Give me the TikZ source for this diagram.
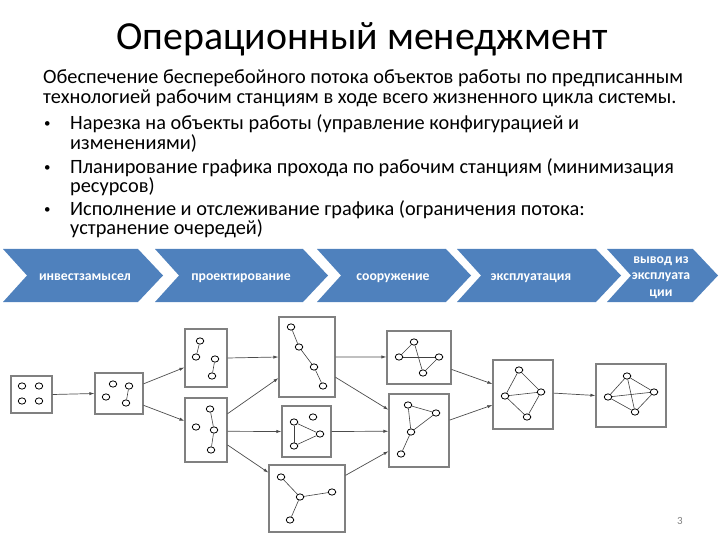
\documentclass[tikz,border=0pt]{standalone}
\usepackage{fontspec}
\setmainfont{Carlito}
\usetikzlibrary{arrows.meta, shapes.geometric, positioning, calc}
\definecolor{phaseblue}{HTML}{4F81BD}
\definecolor{boxgray}{HTML}{808080}

\begin{document}
\begin{tikzpicture}[x=1bp, y=-1bp,
  station/.style={draw=boxgray, line width=1.1bp, inner sep=0pt},
  obj/.style={ellipse, draw=black, fill=white, line width=0.8bp, inner sep=0pt, minimum width=7.6bp, minimum height=6.2bp},
  link/.style={draw=black!75, line width=0.6bp},
  flow/.style={draw=black!70, line width=0.7bp, -{Latex[length=5bp,width=3.2bp]}},
  phase/.style={fill=phaseblue},
  phasetxt/.style={text=white, font=\fontsize{13.8}{16.5}\selectfont\bfseries, align=center, inner sep=0pt},
  bodytxt/.style={anchor=base west, inner sep=0pt, font=\fontsize{20.4}{20}\selectfont},
  bullet/.style={anchor=base west, inner sep=0pt, font=\fontsize{13}{13}\selectfont}]
\useasboundingbox (0,0) rectangle (728,546);

% title and text
\node[anchor=base, font=\fontsize{40}{40}\selectfont] (title) at (362,50) {Операционный менеджмент};
\node[bodytxt] (l1) at (43,84) {Обеспечение бесперебойного потока объектов работы по предписанным};
\node[bodytxt] (l2) at (43,104) {технологией рабочим станциям в ходе всего жизненного цикла системы.};
\foreach \nm/\py/\txt in {
    p1/130/Нарезка на объекты работы (управление конфигурацией и,
    p2/174/Планирование графика прохода по рабочим станциям (минимизация,
    p3/216/Исполнение и отслеживание графика (ограничения потока:} {
    \node[bodytxt] (\nm) at (70,\py) {\txt};
    \node[bullet] (\nm dot) at (44,\py-2) {•};
}
\node[bodytxt] (p1b) at (70,150) {изменениями)};
\node[bodytxt] (p2b) at (70,193) {ресурсов)};
\node[bodytxt] (p3b) at (70,235) {устранение очередей)};

% life cycle
\foreach \xl/\xr in {3/163, 155/328, 317/471, 457/621, 607/718} {
    \fill[phase] (\xl,249) -- (\xr-25,249) -- (\xr,275.5) -- (\xr-25,302) -- (\xl,302) -- (\xl+24,275.5) -- cycle;
}
\foreach \nm/\cx/\txt in {ph1/85/инвестзамысел, ph2/241/проектирование, ph3/393/сооружение, ph4/531/эксплуатация} {
    \node[phasetxt, anchor=base] (\nm) at (\cx,281) {\txt};
}
\node[phasetxt] (ph5) at (661,277.5) {вывод из\\эксплуата\\ции};

% work stations
\foreach \nm/\cx/\cy/\w/\h in {
    sA/31.5/394.5/41/37, sB/119/393.5/48/41,
    sC/206/358/42/58, sD/206/430/42/64,
    sE/307/357/56/80, sF/306.5/431.5/49/51, sG/307/498.5/76/67,
    sH/419/357.5/64/53, sI/419/430.5/60/73,
    sJ/523/394.5/60/69, sK/631/395.5/70/63} {
    \node[station, minimum width=\w bp, minimum height=\h bp] (\nm) at (\cx,\cy) {};
}

\foreach \s/\fs/\t/\ft in {
    sA/.5/sB/.5, sB/.27/sC/.66, sB/.78/sD/.36,
    sC/.5/sE/.5, sD/.25/sE/.76, sD/.52/sF/.5, sD/.73/sG/.12,
    sE/.5/sH/.49, sE/.75/sI/.22, sF/.5/sI/.51, sG/.16/sI/.78,
    sH/.72/sJ/.35, sI/.36/sJ/.65, sJ/.48/sK/.5} {
    \draw[flow] ($(\s.north east)!\fs!(\s.south east)$) -- ($(\t.north west)!\ft!(\t.south west)$);
}

% objects
\foreach \nm/\px/\py in {
    a1/22/386, a2/39/386, a3/22/401, a4/39/401,
    b1/113/384, b2/129/386, b3/106/397, b4/126/403,
    c1/200/341, c2/196/357, c3/215/359, c4/212/376,
    d1/210/409, d2/196/427, d3/214/430, d4/211/450,
    e1/291/327, e2/299/347, e3/314/367, e4/323/386,
    f1/313/417, f2/294/422, f3/320/434, f4/294/446,
    g1/281/477, g2/300/497, g3/332/492, g4/290/520,
    h1/414/342, h2/399/357, h3/439/357, h4/423/373,
    i1/408/405, i2/436/413, i3/411/432, i4/401/454,
    j1/519/370, j2/505/396, j3/541/392, j4/527/417,
    k1/627/376, k2/608/397, k3/654/392, k4/635/412} {
    \node[obj] (\nm) at (\px,\py) {};
}
\foreach \u/\v in {
    b2/b4, c1/c2, c3/c4, d1/d3, d3/d4,
    e1/e2, e2/e3, e3/e4, f2/f3, f3/f4, f4/f2,
    g2/g1, g2/g3, g2/g4, h2/h1, h2/h3, h1/h4, h4/h3,
    i1/i2, i1/i3, i3/i2, i3/i4,
    j1/j2, j1/j3, j2/j3, j2/j4, j3/j4,
    k1/k2, k1/k3, k1/k4, k2/k3, k2/k4, k3/k4} {
    \draw[link] (\u) -- (\v);
}

\node[text=gray, font=\fontsize{11}{11}\selectfont] (pnum) at (680,521) {3};
\end{tikzpicture}
\end{document}
